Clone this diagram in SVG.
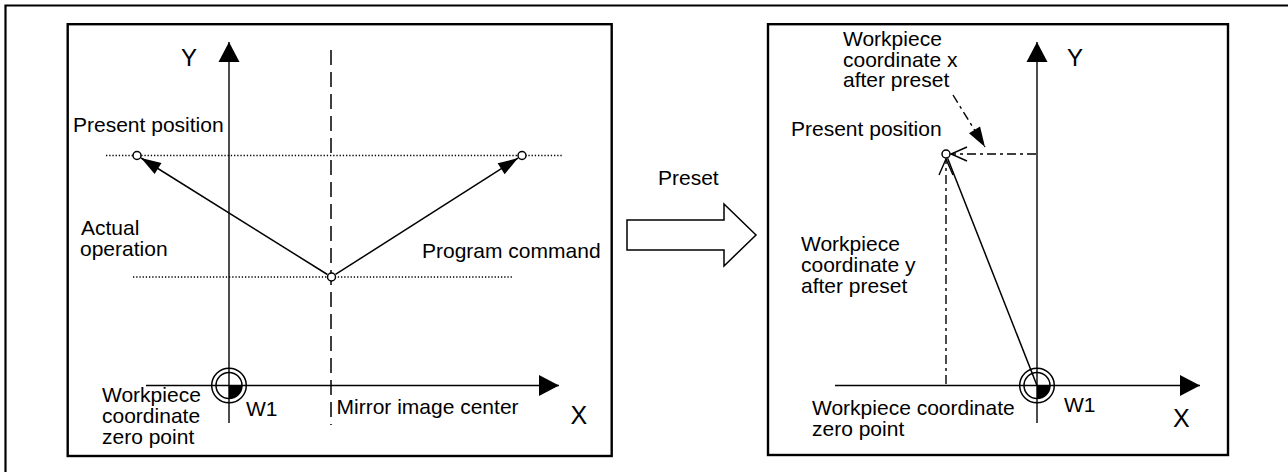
<svg xmlns="http://www.w3.org/2000/svg" width="1288" height="472" viewBox="0 0 1288 472">
<style>
text{font-family:"Liberation Sans",Arial,sans-serif;font-size:21px;fill:#000}
.ax{font-size:24px}
.axx{font-size:25px}
.frame{fill:none;stroke:#000;stroke-width:2.2}
.box{fill:none;stroke:#000;stroke-width:2.4}
.axis{stroke:#000;stroke-width:1.4;fill:none}
.dot{stroke:#000;stroke-width:1.3;stroke-dasharray:1.3 1.9;fill:none}
.dash{stroke:#000;stroke-width:1.5;stroke-dasharray:15 7;fill:none}
.move{stroke:#000;stroke-width:1.5;fill:none}
.dd{stroke:#000;stroke-width:1.4;stroke-dasharray:9 4 3 4;fill:none}
.pt{fill:#fff;stroke:#000;stroke-width:1.5}
.ring{fill:none;stroke:#000;stroke-width:1.5}
</style>
<defs>
<marker id="axhead" markerUnits="userSpaceOnUse" markerWidth="20" markerHeight="21" refX="20" refY="10.5" orient="auto" overflow="visible">
<path d="M0,0 L20,10.5 L0,21 Z" fill="#000" stroke="none"/>
</marker>
<marker id="mvhead" markerUnits="userSpaceOnUse" markerWidth="20" markerHeight="13" refX="20" refY="6.5" orient="auto" overflow="visible">
<path d="M0,0 L20,6.5 L0,13 Z" fill="#000" stroke="none"/>
</marker>
<marker id="openhead" markerUnits="userSpaceOnUse" markerWidth="16" markerHeight="14" refX="16" refY="7" orient="auto" overflow="visible">
<path d="M0,0 L16,7 L0,14" fill="none" stroke="#000" stroke-width="1.4" stroke-dasharray="none"/>
</marker>
<g id="origin-sym">
<circle r="17.3" class="ring"/>
<circle r="13" class="ring"/>
<path d="M0,0 L13,0 A13,13 0 0 1 0,13 Z" fill="#000"/>
</g>
</defs>

<path class="frame" d="M5.5,472 V5.5 H1288"/>

<g id="left-panel">
<rect class="box" x="67.7" y="24.2" width="544" height="431.8"/>
</g>
<g id="right-panel">
<rect class="box" x="768" y="24.2" width="460" height="430.8"/>
</g>

<g id="connectors">
<line class="dot" x1="106" y1="155.5" x2="562" y2="155.5"/>
<line class="dot" x1="133" y1="277" x2="513" y2="277"/>
<line class="dash" x1="331" y1="50" x2="331" y2="425"/>
<line class="axis" x1="229" y1="423" x2="229" y2="42" marker-end="url(#axhead)"/>
<line class="axis" x1="146" y1="385.5" x2="559" y2="385.5" marker-end="url(#axhead)"/>
<line class="move" x1="327.4" y1="274.5" x2="141.1" y2="158" marker-end="url(#mvhead)"/>
<line class="move" x1="335.5" y1="274.4" x2="518" y2="158.1" marker-end="url(#mvhead)"/>
<line class="axis" x1="1037" y1="423" x2="1037" y2="42" marker-end="url(#axhead)"/>
<line class="axis" x1="835" y1="385.5" x2="1200" y2="385.5" marker-end="url(#axhead)"/>
<line class="move" x1="947.6" y1="158.2" x2="1037" y2="385.5"/>
<line class="dd" x1="946" y1="384" x2="946" y2="159" marker-end="url(#openhead)"/>
<line class="dd" x1="1036" y1="154" x2="951" y2="154" marker-end="url(#openhead)"/>
<line class="dd" x1="953" y1="95" x2="985" y2="147" marker-end="url(#mvhead)"/>
</g>

<g id="preset-arrow">
<polygon points="627,220 724,220 724,204 756,235 724,266 724,250 627,250" fill="#fff" stroke="#000" stroke-width="1.5"/>
<text x="658" y="185">Preset</text>
</g>

<g id="left-points">
<circle class="pt" cx="137" cy="155.5" r="4"/>
<circle class="pt" cx="522" cy="155.5" r="4"/>
<circle class="pt" cx="331.5" cy="277" r="4"/>
</g>
<g id="left-origin">
<use href="#origin-sym" x="229" y="385.5"/>
</g>
<g id="right-point">
<circle class="pt" cx="946" cy="154" r="4"/>
</g>
<g id="right-origin">
<use href="#origin-sym" x="1037" y="385.5"/>
</g>

<g id="left-labels">
<text class="ax" x="181" y="66">Y</text>
<text class="axx" x="570.5" y="424">X</text>
<text x="73" y="132">Present position</text>
<text x="81" y="235">Actual</text>
<text x="80" y="256">operation</text>
<text x="422" y="257.5">Program command</text>
<text x="102" y="402">Workpiece</text>
<text x="102" y="423">coordinate</text>
<text x="102" y="443.5">zero point</text>
<text x="246" y="415.5">W1</text>
<text x="336.5" y="414">Mirror image center</text>
</g>

<g id="right-labels">
<text class="ax" x="1067" y="66">Y</text>
<text class="axx" x="1173" y="426.5">X</text>
<text x="843" y="46">Workpiece</text>
<text x="843" y="66.5">coordinate x</text>
<text x="843" y="87">after preset</text>
<text x="791" y="136">Present position</text>
<text x="801" y="251">Workpiece</text>
<text x="801" y="272">coordinate y</text>
<text x="801" y="293">after preset</text>
<text x="812" y="414.5">Workpiece coordinate</text>
<text x="812" y="435.5">zero point</text>
<text x="1064" y="412">W1</text>
</g>
</svg>
